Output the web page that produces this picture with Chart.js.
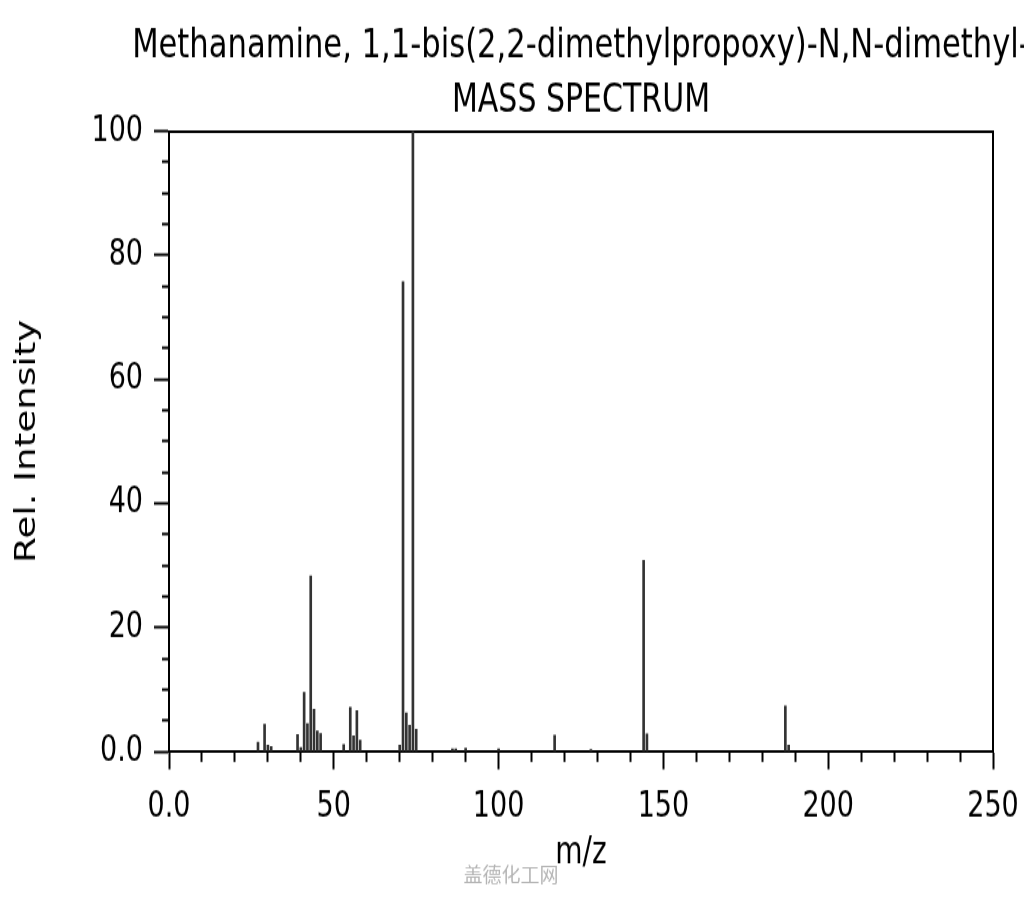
<!DOCTYPE html>
<html>
<head>
<meta charset="utf-8">
<script src="https://cdn.jsdelivr.net/npm/chart.js@4.4.0/dist/chart.umd.min.js"></script>
<style>
html,body{margin:0;padding:0;background:#fff;overflow:hidden}
#wrap{width:1024px;height:900px;overflow:hidden}
#spec{display:block;transform-origin:0 0;transform:scaleY(1.33)}
</style>
</head>
<body>
<div id="wrap"><canvas id="spec" width="1024" height="677"></canvas></div>
<script>
// the source picture is stretched vertically, so the canvas is drawn short and scaled by css
const STRETCH=1.33

// peaks: m/z and relative intensity (%)
const mz=[27,29,30,31,39,40,41,42,43,44,45,46,53,55,56,57,58,70,71,72,73,74,75,86,87,90,100,117,128,144,145,187,188]
const intensity=[1.5,4.4,1.0,0.8,2.7,0.6,9.5,4.5,28.3,6.8,3.3,2.9,1.1,7.1,2.5,6.6,1.8,1.0,75.7,6.2,4.2,100,3.6,0.4,0.4,0.5,0.4,2.6,0.3,30.8,2.8,7.3,1.0]

// labelled ticks
const xTickValues=[0,50,100,150,200,250]
const xTickLabels=['0.0','50','100','150','200','250']
const yTickValues=[0,20,40,60,80,100]
const yTickLabels=['0.0','20','40','60','80','100']

const titleLines=['Methanamine, 1,1-bis(2,2-dimethylpropoxy)-N,N-dimethyl-','MASS SPECTRUM']
const xTitle='m/z'
const yTitle='Rel. Intensity'
const watermark='盖德化工网'

const FONT='"DejaVu Sans", sans-serif'

const labelFor=(values,labels)=>v=>{
    const i=values.indexOf(v)
    return i<0?'':labels[i]
}

// titles are centred over the plot area, not the canvas
const titlePlugin={
    id:'titles',
    afterDraw(chart){
        const {ctx,chartArea}=chart
        const cx=(chartArea.left+chartArea.right)/2
        ctx.save()
        ctx.fillStyle='#000'
        ctx.textAlign='center'
        ctx.textBaseline='alphabetic'
        ctx.font='30.6px '+FONT
        ctx.fillText(titleLines[0],cx,43)
        ctx.font='30px '+FONT
        ctx.fillText(titleLines[1],cx,84)
        ctx.restore()

        // watermark is not stretched in the source
        ctx.save()
        ctx.translate(511,658)
        ctx.scale(1,1/STRETCH)
        ctx.fillStyle='#b4b4b4'
        ctx.textAlign='center'
        ctx.textBaseline='middle'
        ctx.font='19px "Noto Sans CJK SC"'
        ctx.fillText(watermark,0,0)
        ctx.restore()
    }
}

const data={
    datasets:[{
        data:mz.map((m,i)=>({x:m,y:intensity[i]})),
        backgroundColor:'#333',
        borderWidth:0,
        barThickness:2
    }]
}

const options={
    responsive:false,
    maintainAspectRatio:false,
    devicePixelRatio:1,
    animation:false,
    layout:{padding:{top:98.5,right:31,bottom:0,left:0}},
    plugins:{
        legend:{display:false},
        tooltip:{enabled:false},
        title:{display:false}
    },
    scales:{
        x:{
            type:'linear',
            position:'bottom',
            min:0,
            max:250,
            offset:false,
            ticks:{
                stepSize:10,
                autoSkip:false,
                maxRotation:0,
                padding:12,
                color:'#000',
                font:{family:FONT,size:27},
                callback:labelFor(xTickValues,xTickLabels)
            },
            grid:{
                offset:false,
                drawOnChartArea:false,
                drawTicks:true,
                tickLength:13.5,
                tickWidth:2,
                tickColor:'#000',
                tickBorderDash:c=>(c.tick&&c.tick.value%50===0)?[]:[6.8,100]
            },
            border:{display:true,color:'#000',width:2},
            title:{display:true,text:xTitle,color:'#000',font:{family:FONT,size:28},padding:{top:0,bottom:18}},
            afterFit:s=>{s.height=112;s.paddingLeft=0;s.paddingRight=0}
        },
        y:{
            type:'linear',
            position:'left',
            min:0,
            max:100,
            ticks:{
                stepSize:5,
                autoSkip:false,
                padding:11,
                color:'#000',
                font:{family:FONT,size:27},
                callback:labelFor(yTickValues,yTickLabels)
            },
            grid:{
                drawOnChartArea:false,
                drawTicks:true,
                tickLength:15,
                tickWidth:2,
                tickColor:'#000',
                tickBorderDash:c=>(c.tick&&c.tick.value%20===0)?[]:[0,8,7,100]
            },
            border:{display:true,color:'#000',width:2},
            title:{display:true,text:yTitle,color:'#000',font:{family:FONT,size:28},padding:{top:11,bottom:0}},
            afterFit:s=>{s.width=169;s.paddingTop=0;s.paddingBottom=0}
        },
        // frame on top and right
        xTop:{
            axis:'x',
            position:'top',
            min:0,max:1,
            ticks:{display:false},
            grid:{drawOnChartArea:false,drawTicks:false},
            border:{display:true,color:'#000',width:2},
            afterFit:s=>{s.height=0;s.paddingLeft=0;s.paddingRight=0}
        },
        yRight:{
            axis:'y',
            position:'right',
            min:0,max:1,
            ticks:{display:false},
            grid:{drawOnChartArea:false,drawTicks:false},
            border:{display:true,color:'#000',width:2},
            afterFit:s=>{s.width=0;s.paddingTop=0;s.paddingBottom=0}
        }
    }
}

new Chart('spec',{type:'bar',data,options,plugins:[titlePlugin]})
</script>
</body>
</html>
